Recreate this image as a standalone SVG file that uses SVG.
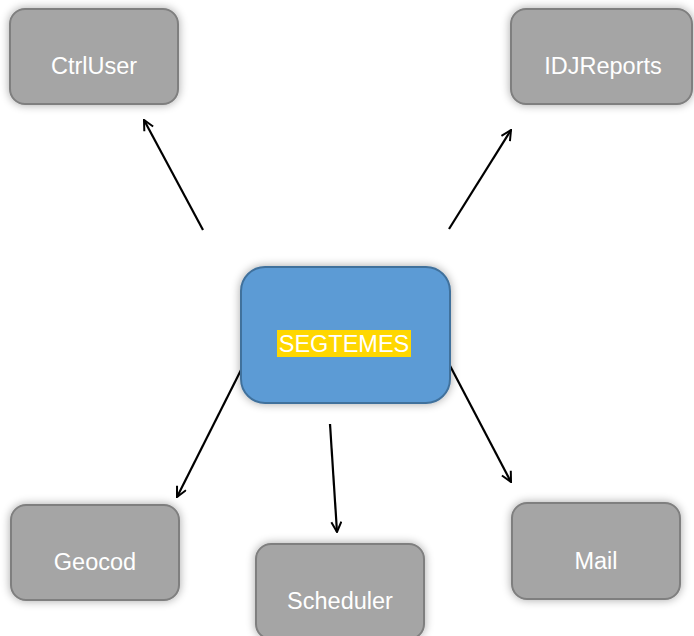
<svg xmlns="http://www.w3.org/2000/svg" width="694" height="636" viewBox="0 0 694 636">
<defs>
<filter id="sh" x="-20%" y="-20%" width="140%" height="140%">
<feGaussianBlur in="SourceAlpha" stdDeviation="5"/>
<feComponentTransfer><feFuncA type="linear" slope="0.35"/></feComponentTransfer>
<feMerge><feMergeNode/><feMergeNode in="SourceGraphic"/></feMerge>
</filter>
<marker id="ah" viewBox="0 0 12 12" refX="11" refY="6" markerWidth="12" markerHeight="12" markerUnits="userSpaceOnUse" orient="auto">
<path d="M1,1 L11,6 L1,11" fill="none" stroke="#000" stroke-width="2"/>
</marker>
<style>
.box{fill:#A5A5A5;stroke:#7F7F7F;stroke-width:2;filter:url(#sh)}
.main{fill:#5B9BD5;stroke:#41719C;stroke-width:2;filter:url(#sh)}
.lbl{font-family:"Liberation Sans",Arial,sans-serif;font-size:23.5px;fill:#fff;text-anchor:middle}
.cn{stroke:#000;stroke-width:2.2;fill:none;marker-end:url(#ah)}
</style>
</defs>
<rect width="694" height="636" fill="#fff"/>
<g id="connectors">
<line class="cn" x1="203" y1="230" x2="144" y2="120"/>
<line class="cn" x1="449" y1="229" x2="511" y2="130"/>
<line class="cn" x1="241" y1="370" x2="177" y2="497"/>
<line class="cn" x1="330" y1="424" x2="337" y2="532"/>
<line class="cn" x1="447" y1="360" x2="511" y2="482"/>
</g>
<g id="CtrlUser">
<rect class="box" x="10" y="9" width="168" height="95" rx="15"/>
<text class="lbl" x="94" y="74">CtrlUser</text>
</g>
<g id="IDJReports">
<rect class="box" x="511" y="9" width="181" height="95" rx="15"/>
<text class="lbl" x="603" y="74">IDJReports</text>
</g>
<g id="SEGTEMES">
<rect class="main" x="241" y="267" width="209" height="136" rx="24"/>
<rect x="277" y="330" width="134" height="27" fill="#FFD700"/>
<text class="lbl" x="344" y="352">SEGTEMES</text>
</g>
<g id="Geocod">
<rect class="box" x="11" y="505" width="168" height="95" rx="15"/>
<text class="lbl" x="95" y="570">Geocod</text>
</g>
<g id="Scheduler">
<rect class="box" x="256" y="544" width="168" height="95" rx="15"/>
<text class="lbl" x="340" y="609">Scheduler</text>
</g>
<g id="Mail">
<rect class="box" x="512" y="503" width="168" height="96" rx="15"/>
<text class="lbl" x="596" y="569">Mail</text>
</g>
</svg>
